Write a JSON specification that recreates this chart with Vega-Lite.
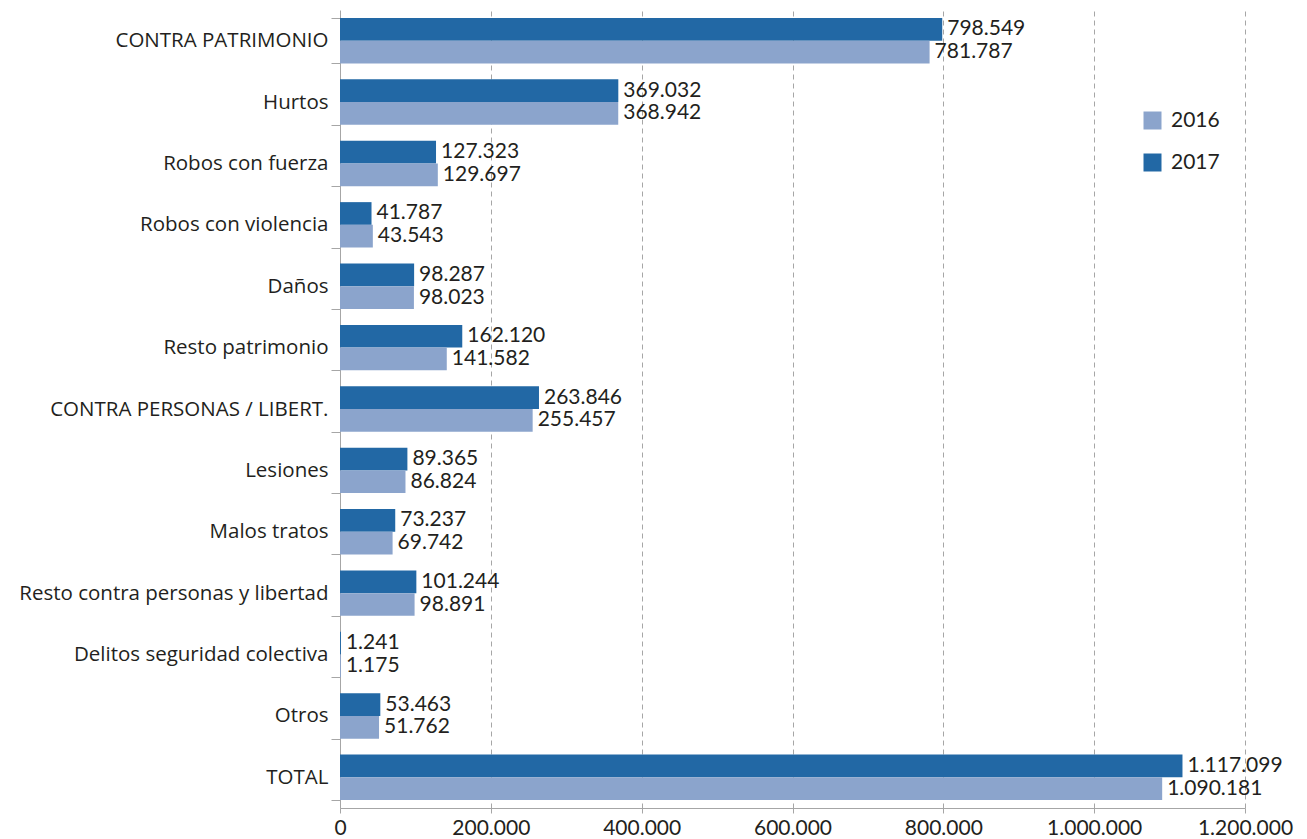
{
  "$schema": "https://vega.github.io/schema/vega-lite/v6.json",
  "width": 905,
  "height": 798,
  "autosize": {"type": "none"},
  "padding": {"left": 340, "top": 10, "right": 62, "bottom": 31},
  "background": "white",
  "config": {
    "locale": {"number": {"decimal": ",", "thousands": ".", "grouping": [3], "currency": ["", " €"]}},
    "font": "Lato",
    "view": {"stroke": null}
  },
  "data": {"values": [
    {"categoria": "CONTRA PATRIMONIO", "anio": "2017", "valor": 798549},
    {"categoria": "CONTRA PATRIMONIO", "anio": "2016", "valor": 781787},
    {"categoria": "Hurtos", "anio": "2017", "valor": 369032},
    {"categoria": "Hurtos", "anio": "2016", "valor": 368942},
    {"categoria": "Robos con fuerza", "anio": "2017", "valor": 127323},
    {"categoria": "Robos con fuerza", "anio": "2016", "valor": 129697},
    {"categoria": "Robos con violencia", "anio": "2017", "valor": 41787},
    {"categoria": "Robos con violencia", "anio": "2016", "valor": 43543},
    {"categoria": "Daños", "anio": "2017", "valor": 98287},
    {"categoria": "Daños", "anio": "2016", "valor": 98023},
    {"categoria": "Resto patrimonio", "anio": "2017", "valor": 162120},
    {"categoria": "Resto patrimonio", "anio": "2016", "valor": 141582},
    {"categoria": "CONTRA PERSONAS / LIBERT.", "anio": "2017", "valor": 263846},
    {"categoria": "CONTRA PERSONAS / LIBERT.", "anio": "2016", "valor": 255457},
    {"categoria": "Lesiones", "anio": "2017", "valor": 89365},
    {"categoria": "Lesiones", "anio": "2016", "valor": 86824},
    {"categoria": "Malos tratos", "anio": "2017", "valor": 73237},
    {"categoria": "Malos tratos", "anio": "2016", "valor": 69742},
    {"categoria": "Resto contra personas y libertad", "anio": "2017", "valor": 101244},
    {"categoria": "Resto contra personas y libertad", "anio": "2016", "valor": 98891},
    {"categoria": "Delitos seguridad colectiva", "anio": "2017", "valor": 1241},
    {"categoria": "Delitos seguridad colectiva", "anio": "2016", "valor": 1175},
    {"categoria": "Otros", "anio": "2017", "valor": 53463},
    {"categoria": "Otros", "anio": "2016", "valor": 51762},
    {"categoria": "TOTAL", "anio": "2017", "valor": 1117099},
    {"categoria": "TOTAL", "anio": "2016", "valor": 1090181}
  ]},
  "encoding": {
    "y": {
      "field": "categoria", "type": "nominal",
      "sort": ["CONTRA PATRIMONIO", "Hurtos", "Robos con fuerza", "Robos con violencia", "Daños", "Resto patrimonio", "CONTRA PERSONAS / LIBERT.", "Lesiones", "Malos tratos", "Resto contra personas y libertad", "Delitos seguridad colectiva", "Otros", "TOTAL"],
      "scale": {"paddingInner": 0.26, "paddingOuter": 0.13},
      "axis": {
        "title": null, "tickBand": "extent", "tickSize": 9, "tickColor": "#a6a6a6",
        "domainColor": "#a6a6a6", "labelFont": "Open Sans", "labelFontSize": 20.5, "labelColor": "#231f20",
        "labelPadding": 3, "labelLimit": 400, "grid": false
      }
    },
    "yOffset": {"field": "anio", "type": "nominal", "sort": ["2017", "2016"], "scale": {"paddingInner": 0, "paddingOuter": 0}},
    "x": {
      "field": "valor", "type": "quantitative",
      "scale": {"domain": [0, 1200000], "nice": false},
      "axis": {
        "title": null, "values": [0, 200000, 400000, 600000, 800000, 1000000, 1200000],
        "format": ",d", "grid": true, "gridDash": [5, 4], "gridColor": "#a6a6a6",
        "tickColor": "#a6a6a6", "tickSize": 5, "domainColor": "#a6a6a6",
        "labelFontSize": 21, "labelColor": "#231f20", "labelPadding": 4, "labelFlush": false
      }
    }
  },
  "layer": [
    {
      "mark": {"type": "bar"},
      "encoding": {
        "color": {
          "field": "anio", "type": "nominal",
          "scale": {"domain": ["2016", "2017"], "range": ["#8ba4cc", "#2268a5"]},
          "legend": {
            "title": null, "orient": "none", "legendX": 802, "legendY": 100,
            "symbolType": "square", "symbolSize": 324, "symbolStrokeWidth": 0,
            "labelFontSize": 21, "labelColor": "#231f20", "labelOffset": 8, "rowPadding": 20
          }
        }
      }
    },
    {
      "mark": {"type": "text", "align": "left", "baseline": "middle", "dx": 5, "fontSize": 21, "color": "#231f20"},
      "encoding": {
        "text": {"field": "valor", "type": "quantitative", "format": ",d"}
      }
    }
  ]
}
